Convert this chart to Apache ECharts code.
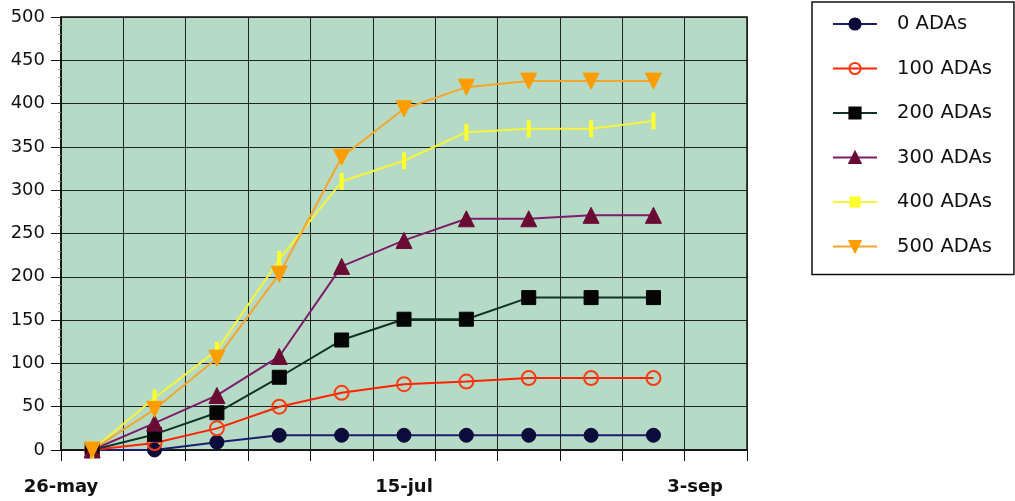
<!DOCTYPE html>
<html>
<head>
<meta charset="utf-8">
<script src="https://cdn.jsdelivr.net/npm/echarts@6/dist/echarts.min.js"></script>
<style>
html,body{margin:0;padding:0;background:#fff;}
#chart{width:1015px;height:501px;}
</style>
</head>
<body>
<div id="chart"></div>
<script>
// Sampling dates: positions in sampling-interval units (11 intervals span 26-may .. 3-sep)
const samplePositions = [0.5, 1.5, 2.5, 3.5, 4.5, 5.5, 6.5, 7.5, 8.5, 9.5];
const seriesNames = ['0 ADAs', '100 ADAs', '200 ADAs', '300 ADAs', '400 ADAs', '500 ADAs'];
const ada0   = [0, 0, 9, 17, 17, 17, 17, 17, 17, 17];
const ada100 = [0, 8, 25, 50, 66, 76, 79, 83, 83, 83];
const ada200 = [0, 18, 43, 84, 127, 151, 151, 176, 176, 176];
const ada300 = [0, 31, 63, 108, 212, 242, 267, 267, 271, 271];
const ada400 = [0, 60, 115, 220, 310, 334, 367, 371, 371, 380];
const ada500 = [0, 47, 106, 203, 338, 394, 419, 426, 426, 426];
// X tick labels, as days after 26-may
const xTickDays = [0, 50, 100];
const xTickLabels = ['26-may', '15-jul', '3-sep'];

const FONT = 'DejaVu Sans';

function pts(vals) { return vals.map((v, i) => [samplePositions[i], v]); }

const styles = [
  { line: '#1c1c6e', symbol: 'circle', size: 14, item: { color: '#0b0b3c', borderColor: '#0b0b3c', borderWidth: 1 } },
  { line: '#ff2200', symbol: 'circle', size: 14, item: { color: 'rgba(0,0,0,0)', borderColor: '#ff3a10', borderWidth: 2 } },
  { line: '#123324', symbol: 'rect', size: 14, item: { color: '#050505', borderColor: '#050505', borderWidth: 1 } },
  { line: '#7d1d6c', symbol: 'triangle', size: 16, item: { color: '#6a0b33', borderColor: '#6a0b33', borderWidth: 1 } },
  { line: '#f7f43a', symbol: 'rect', size: [4, 17], item: { color: '#ffff30', borderColor: '#ffff30', borderWidth: 0 } },
  { line: '#f5a52a', symbol: 'triangle', size: 16, rotate: 180, item: { color: '#ff9d00', borderColor: '#ff9d00', borderWidth: 1 } }
];
const allData = [ada0, ada100, ada200, ada300, ada400, ada500];

const series = allData.map((vals, k) => ({
  name: seriesNames[k],
  type: 'line',
  xAxisIndex: 0,
  yAxisIndex: 0,
  data: pts(vals),
  symbol: styles[k].symbol,
  symbolSize: styles[k].size,
  symbolRotate: styles[k].rotate || 0,
  showSymbol: true,
  showAllSymbol: true,
  lineStyle: { color: styles[k].line, width: 2 },
  itemStyle: styles[k].item,
  emphasis: { disabled: true },
  animation: false
}));

const chart = echarts.init(document.getElementById('chart'), null, { renderer: 'canvas' });
chart.setOption({
  animation: false,
  backgroundColor: '#ffffff',
  grid: {
    left: 61, right: 268, top: 17, bottom: 51,
    show: true,
    backgroundColor: '#b5dbc6',
    borderColor: '#111',
    borderWidth: 1.5
  },
  legend: {
    orient: 'vertical',
    left: 812, top: 2,
    padding: [12, 22, 18, 20],
    itemWidth: 44,
    itemHeight: 14,
    itemGap: 24.5,
    borderColor: '#111',
    borderWidth: 1.5,
    data: seriesNames,
    textStyle: { fontFamily: FONT, fontSize: 19.5, color: '#111', lineHeight: 20, padding: [0, 0, 0, 15] }
  },
  xAxis: [
    {
      type: 'value', min: 0, max: 11, interval: 1, position: 'bottom',
      axisLine: { show: true, onZero: false, lineStyle: { color: '#111', width: 1.5 } },
      axisTick: { show: true, inside: false, length: 11, lineStyle: { color: '#111', width: 1 } },
      axisLabel: { show: false },
      splitLine: { show: true, lineStyle: { color: '#222', width: 1 } }
    },
    {
      type: 'value', min: 0, max: 100, position: 'bottom',
      axisLine: { show: false },
      axisTick: { show: false },
      splitLine: { show: false },
      axisLabel: {
        show: true,
        customValues: xTickDays,
        margin: 28,
        alignMaxLabel: 'right',
        formatter: function (v) {
          const i = xTickDays.indexOf(v);
          if (i < 0) return '';
          return i === xTickDays.length - 1 ? '{last|' + xTickLabels[i] + '}' : xTickLabels[i];
        },
        fontFamily: FONT, fontSize: 18, fontWeight: 'bold', color: '#111',
        rich: { last: { fontFamily: FONT, fontSize: 18, fontWeight: 'bold', color: '#111', padding: [0, 24, 0, 0] } }
      }
    }
  ],
  yAxis: {
    type: 'value', min: 0, max: 500, interval: 50,
    axisLine: { show: true, lineStyle: { color: '#111', width: 1.5 } },
    axisTick: { show: true, inside: false, length: 10, lineStyle: { color: '#111', width: 1 } },
    minorTick: { show: true, splitNumber: 5, length: 3, lineStyle: { color: '#999', width: 1 } },
    axisLabel: { fontFamily: FONT, fontSize: 18, color: '#111', margin: 16 },
    splitLine: { show: true, lineStyle: { color: '#222', width: 1 } }
  },
  series: series
});
</script>
</body>
</html>
